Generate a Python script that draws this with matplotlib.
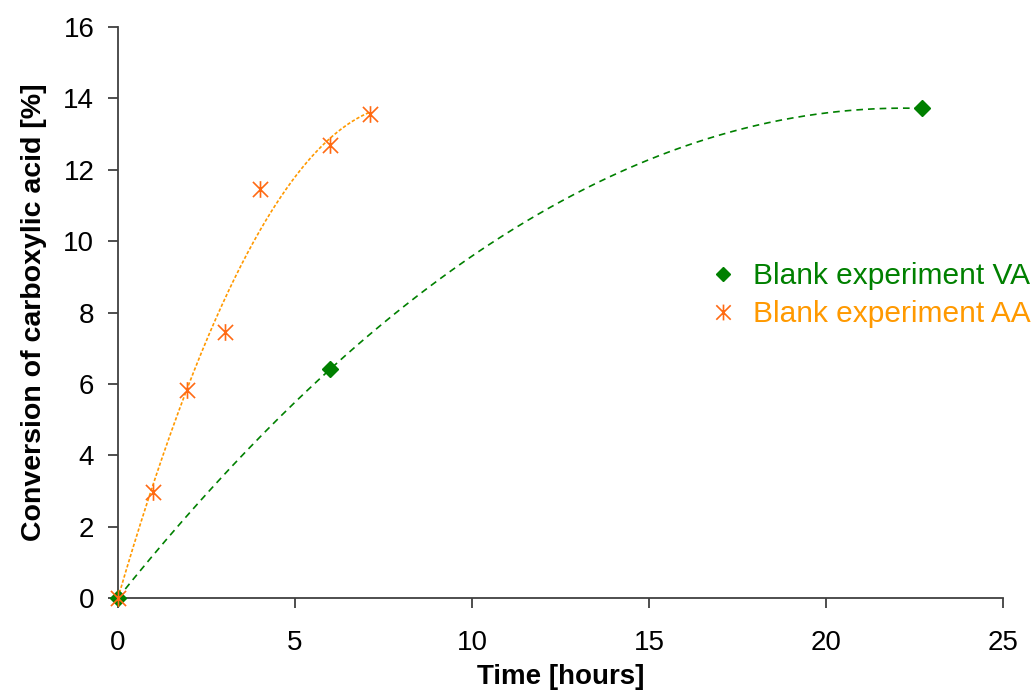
import numpy as np
import matplotlib
matplotlib.use("Agg")
import matplotlib.pyplot as plt
from matplotlib.path import Path

plt.rcParams['font.family'] = ['Liberation Sans', 'DejaVu Sans']

# Blank experiment VA
va_time = [0.0, 6.0, 22.7]
va_conv = [0.0, 6.42, 13.72]

# Blank experiment AA
aa_time = [0.0, 1.0, 1.95, 3.02, 4.0, 5.99, 7.12]
aa_conv = [0.0, 2.97, 5.83, 7.45, 11.46, 12.69, 13.56]

green = "#008000"
orange_mark = "#FF6A13"
orange_line = "#FF9900"

# Excel style star: an X with a vertical bar through it
star = Path([(-1, -1), (1, 1), (-1, 1), (1, -1), (0, -1.1), (0, 1.1)],
            [Path.MOVETO, Path.LINETO, Path.MOVETO, Path.LINETO,
             Path.MOVETO, Path.LINETO])


def quad_fit_origin(x, y):
    # 2nd order polynomial trend line, intercept set to zero
    x = np.asarray(x)
    A = np.column_stack([x, x**2])
    c, *_ = np.linalg.lstsq(A, np.asarray(y), rcond=None)
    return lambda t: c[0]*t + c[1]*t**2


fig = plt.figure(figsize=(10.32, 6.93), dpi=100)
ax = fig.add_axes([0.1143, 0.137, 0.858, 0.824])

# trend lines
t_va = np.linspace(0, max(va_time), 200)
ax.plot(t_va, quad_fit_origin(va_time, va_conv)(t_va), color=green, lw=1.2,
        dashes=(4, 3), zorder=2)
t_aa = np.linspace(0, max(aa_time), 200)
ax.plot(t_aa, quad_fit_origin(aa_time, aa_conv)(t_aa), color=orange_line, lw=1.2,
        dashes=(2, 1.2), zorder=2)

# data points
ax.plot(va_time, va_conv, ls="none", marker="D", ms=8, color=green,
        label="Blank experiment VA", zorder=3, clip_on=False)
ax.plot(aa_time, aa_conv, ls="none", marker=star, ms=12, mew=1.2,
        color=orange_mark, label="Blank experiment AA", zorder=3, clip_on=False)

ax.set_xlim(0, 25)
ax.set_ylim(0, 16)
ax.set_xticks(range(0, 26, 5))
ax.set_yticks(range(0, 17, 2))
for s in ["top", "right"]:
    ax.spines[s].set_visible(False)
for s in ["left", "bottom"]:
    ax.spines[s].set_color("#404040")
    ax.spines[s].set_linewidth(1.3)
ax.tick_params(direction="out", length=7, width=1.3, color="#404040",
               labelsize=20)
ax.tick_params(axis="y", pad=10)
ax.tick_params(axis="x", pad=16)

ax.set_xlabel("Time [hours]", fontsize=20, fontweight="bold", labelpad=6)
ax.set_ylabel("Conversion of carboxylic acid [%]", fontsize=20.5,
              fontweight="bold", labelpad=12)

leg = ax.legend(loc="center left", bbox_to_anchor=(0.646, 0.53), frameon=False,
                fontsize=21.5, handlelength=0.8, handletextpad=0.6,
                labelspacing=0.33, markerscale=0.95, borderaxespad=0.3)
leg.get_texts()[0].set_color(green)
leg.get_texts()[1].set_color(orange_line)

fig.savefig("out.png", dpi=100)
